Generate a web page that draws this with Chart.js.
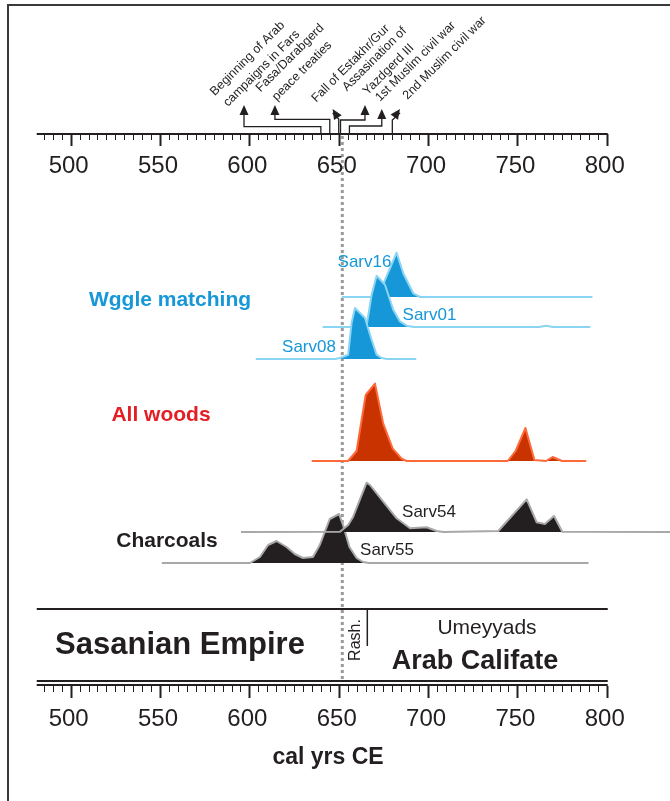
<!DOCTYPE html>
<html>
<head>
<meta charset="utf-8">
<script src="https://cdn.jsdelivr.net/npm/chart.js@4.4.0/dist/chart.umd.min.js"></script>
<style>
  html, body { margin: 0; padding: 0; background: #fff; }
  canvas { display: block; }
</style>
</head>
<body>
<canvas id="chart" width="670" height="801"></canvas>
<script>
// calibrated dates (cal yrs CE) and probability heights
const sarv16Years = [651.7, 672, 676.3, 678.7, 682.4, 686.1, 691.7, 695.5, 792];
const sarv16Dens  = [0, 0, 18.7, 28.7, 44.3, 23.7, 3.7, 0, 0];

const sarv01Years = [641, 665, 665.6, 668.4, 671.2, 675.9, 680.5, 684.3, 688, 692, 762, 766, 770, 790.8];
const sarv01Dens  = [0, 0, 1, 32, 51.3, 42.3, 17.3, 5.6, 1.3, 0, 0, 1.2, 0, 0];

const sarv08Years = [603.6, 648, 650.7, 655.3, 657.2, 659.1, 664.7, 668.4, 671.2, 674, 677, 693.4];
const sarv08Dens  = [0, 0, 1, 4.3, 36, 51, 41, 19.3, 4.3, 1, 0, 0];

const woodsYears = [634.9, 655.2, 660, 665.1, 670.3, 674.9, 680.2, 685.2, 688, 744.6, 749, 754.5, 759.5, 766, 769.7, 775, 788.5];
const woodsDens  = [0, 0, 10, 66, 77.4, 37.4, 12.4, 2.4, 0, 0, 10, 33, 1, 0, 4, 0, 0];

const sarv54Years = [595.3, 650.7, 655.3, 658.1, 665.6, 667.5, 674.9, 682.4, 689.9, 699.2, 704.8, 708.5, 739.3, 755.2, 760.8, 765.4, 770.5, 775.1, 836];
const sarv54Dens  = [0, 0.3, 7, 15.3, 49.3, 47, 30.3, 13.7, 3.7, 4.7, 1, 0, 1, 32.7, 9.7, 8, 16, 0.3, 0];

const sarv55Years = [551, 600.3, 605.9, 610.5, 615.2, 620.8, 625.4, 630, 635.6, 639.4, 645, 650.2, 652.4, 656, 660, 663.6, 667, 789.8];
const sarv55Dens  = [0, 0, 6, 18, 22, 16, 9, 5, 6, 18, 44, 49, 38, 16, 5, 1, 0, 0];

const axisLabels = [500, 550, 600, 650, 700, 750, 800];
const markerYear = 652;

const eventYears = [640, 645, 650, 651, 656, 680];
const eventLabels = [
  ["Beginning of Arab", "campaigns in Fars"],
  ["Fasa/Darabgerd", "peace treaties"],
  ["Fall of Estakhr/Gur"],
  ["Assasination of", "Yazdgerd III"],
  ["1st Muslim civil war"],
  ["2nd Muslim civil war"]
];
const umayyadStart = 666;

const FONT = '"Liberation Sans", Arial, Helvetica, sans-serif';
const INK = "#231f20";
const BLUE = "#1597d8";
const BLUE_LINE = "#8ad4f4";
const RED = "#c93300";
const RED_LINE = "#ff6a3a";
const BLACK_LINE = "#a8a8a8";

// base = vertical position of each curve's zero line (y scale runs top to bottom)
function curve(years, dens, base, fillColor, lineColor, order) {
  return {
    data: years.map((x, i) => ({ x: x, y: base - dens[i] })),
    fill: { value: base },
    backgroundColor: fillColor,
    borderColor: lineColor,
    borderWidth: 2,
    borderJoinStyle: "round",
    pointRadius: 0,
    tension: 0,
    order: order
  };
}

function arrowHead(ctx, x1, y1, x2, y2) {
  const a = Math.atan2(y2 - y1, x2 - x1);
  const len = 10, w = 4.5;
  ctx.beginPath();
  ctx.moveTo(x2, y2);
  ctx.lineTo(x2 - len * Math.cos(a) + w * Math.sin(a), y2 - len * Math.sin(a) - w * Math.cos(a));
  ctx.lineTo(x2 - len * Math.cos(a) - w * Math.sin(a), y2 - len * Math.sin(a) + w * Math.cos(a));
  ctx.closePath();
  ctx.fill();
}

function drawAxis(ctx, x, lineYs, tickTop, labelY) {
  ctx.strokeStyle = INK;
  ctx.lineWidth = 2;
  lineYs.forEach(y => {
    ctx.beginPath();
    ctx.moveTo(x.getPixelForValue(481), y);
    ctx.lineTo(x.getPixelForValue(800) + 1, y);
    ctx.stroke();
  });
  for (let yr = 485; yr <= 800; yr += 5) {
    const px = Math.round(x.getPixelForValue(yr)) + 0.5;
    const major = yr % 50 === 0;
    ctx.lineWidth = major ? 2 : 1;
    ctx.beginPath();
    ctx.moveTo(px, tickTop);
    ctx.lineTo(px, tickTop + (major ? 12 : 6));
    ctx.stroke();
  }
  ctx.fillStyle = INK;
  ctx.font = "24px " + FONT;
  ctx.textAlign = "center";
  ctx.textBaseline = "middle";
  axisLabels.forEach(v => ctx.fillText(String(v), x.getPixelForValue(v) - 2, labelY));
}

function text(ctx, s, x, y, font, color, align) {
  ctx.font = font;
  ctx.fillStyle = color;
  ctx.textAlign = align || "center";
  ctx.textBaseline = "middle";
  ctx.fillText(s, x, y);
}

const decor = {
  id: "decor",
  beforeDatasetsDraw(chart) {
    const ctx = chart.ctx, x = chart.scales.x;
    const px = x.getPixelForValue(markerYear);
    ctx.save();
    ctx.strokeStyle = "#9a9a9a";
    ctx.lineWidth = 3;
    ctx.setLineDash([3, 3]);
    ctx.beginPath();
    ctx.moveTo(px, 136);
    ctx.lineTo(px, 680);
    ctx.stroke();
    ctx.restore();
  },
  afterDatasetsDraw(chart) {
    const ctx = chart.ctx, x = chart.scales.x;
    ctx.save();

    // frame
    ctx.strokeStyle = "#3a3a3a";
    ctx.lineWidth = 2;
    ctx.beginPath();
    ctx.moveTo(670, 5);
    ctx.lineTo(8, 5);
    ctx.lineTo(8, 801);
    ctx.stroke();

    // top and bottom time axes
    drawAxis(ctx, x, [134], 134, 166);
    drawAxis(ctx, x, [681, 685], 686, 719);
    text(ctx, "cal yrs CE", 328, 758, "bold 23px " + FONT, INK);

    // events with arrows
    const P = v => x.getPixelForValue(v);
    const arrows = [
      { kneeY: 126.7, toX: P(597), tipY: 105 },
      { kneeY: 119.3, toX: P(614.3), tipY: 105 },
      { kneeY: 119, diag: [P(646.6), 109] },
      { kneeY: 120, toX: P(664.7), tipY: 105 },
      { kneeY: 126, toX: P(674.1), tipY: 109 },
      { kneeY: 120, diag: [P(684.3), 109] }
    ];
    ctx.strokeStyle = INK;
    ctx.fillStyle = INK;
    ctx.lineWidth = 1.3;
    eventYears.forEach((yr, i) => {
      const a = arrows[i];
      const x0 = P(yr);
      ctx.beginPath();
      ctx.moveTo(x0, 134);
      ctx.lineTo(x0, a.kneeY);
      if (a.diag) {
        ctx.lineTo(a.diag[0], a.diag[1] + 4);
        ctx.stroke();
        arrowHead(ctx, x0, a.kneeY, a.diag[0], a.diag[1]);
      } else {
        ctx.lineTo(a.toX, a.kneeY);
        ctx.lineTo(a.toX, a.tipY + 6);
        ctx.stroke();
        arrowHead(ctx, a.toX, a.kneeY, a.toX, a.tipY);
      }
    });

    const labelPos = [
      [[250, 61], [264, 71]],
      [[292.5, 60.5], [304.5, 73.5]],
      [[353, 66]],
      [[377, 61.5], [391, 72]],
      [[418, 64]],
      [[447, 60.5]]
    ];
    ctx.font = "12.5px " + FONT;
    ctx.textAlign = "center";
    ctx.textBaseline = "alphabetic";
    eventLabels.forEach((lines, i) => {
      lines.forEach((s, j) => {
        const p = labelPos[i][j];
        ctx.save();
        ctx.translate(p[0], p[1]);
        ctx.rotate(-Math.PI / 4);
        ctx.fillText(s, 0, 0);
        ctx.restore();
      });
    });

    // group labels and sample names
    text(ctx, "Wggle matching", 170, 300, "bold 21px " + FONT, BLUE);
    text(ctx, "All woods", 161, 415, "bold 21px " + FONT, "#e31e24");
    text(ctx, "Charcoals", 167, 541, "bold 21px " + FONT, INK);
    const small = "17px " + FONT;
    text(ctx, "Sarv16", 364.5, 262, small, BLUE);
    text(ctx, "Sarv01", 429.5, 315, small, BLUE);
    text(ctx, "Sarv08", 309, 347, small, BLUE);
    text(ctx, "Sarv54", 429, 512, small, INK);
    text(ctx, "Sarv55", 387, 550, small, INK);

    // historical periods band
    ctx.strokeStyle = INK;
    ctx.lineWidth = 2;
    ctx.beginPath();
    ctx.moveTo(P(481), 609);
    ctx.lineTo(P(800) + 1, 609);
    ctx.stroke();
    ctx.lineWidth = 1.5;
    ctx.beginPath();
    ctx.moveTo(P(umayyadStart), 609);
    ctx.lineTo(P(umayyadStart), 646);
    ctx.stroke();
    text(ctx, "Sasanian Empire", 180, 645, "bold 31px " + FONT, INK);
    text(ctx, "Umeyyads", 487, 628, "21px " + FONT, INK);
    text(ctx, "Arab Califate", 475, 662, "bold 27px " + FONT, INK);
    ctx.save();
    ctx.translate(356, 640);
    ctx.rotate(-Math.PI / 2);
    text(ctx, "Rash.", 0, 0, "16px " + FONT, INK);
    ctx.restore();

    ctx.restore();
  }
};

new Chart(document.getElementById("chart"), {
  type: "line",
  data: {
    datasets: [
      curve(sarv16Years, sarv16Dens, 297, BLUE, BLUE_LINE, 3),
      curve(sarv01Years, sarv01Dens, 327, BLUE, BLUE_LINE, 2),
      curve(sarv08Years, sarv08Dens, 359, BLUE, BLUE_LINE, 1),
      curve(woodsYears, woodsDens, 461, RED, RED_LINE, 1),
      curve(sarv55Years, sarv55Dens, 563, INK, BLACK_LINE, 2),
      curve(sarv54Years, sarv54Dens, 532, INK, BLACK_LINE, 1)
    ]
  },
  options: {
    responsive: false,
    animation: false,
    devicePixelRatio: 1,
    layout: { padding: 0 },
    plugins: { legend: { display: false }, tooltip: { enabled: false } },
    scales: {
      x: { type: "linear", min: 460.44, max: 835.4, display: false },
      y: { type: "linear", min: 0, max: 801, reverse: true, display: false }
    }
  },
  plugins: [decor]
});
</script>
</body>
</html>
